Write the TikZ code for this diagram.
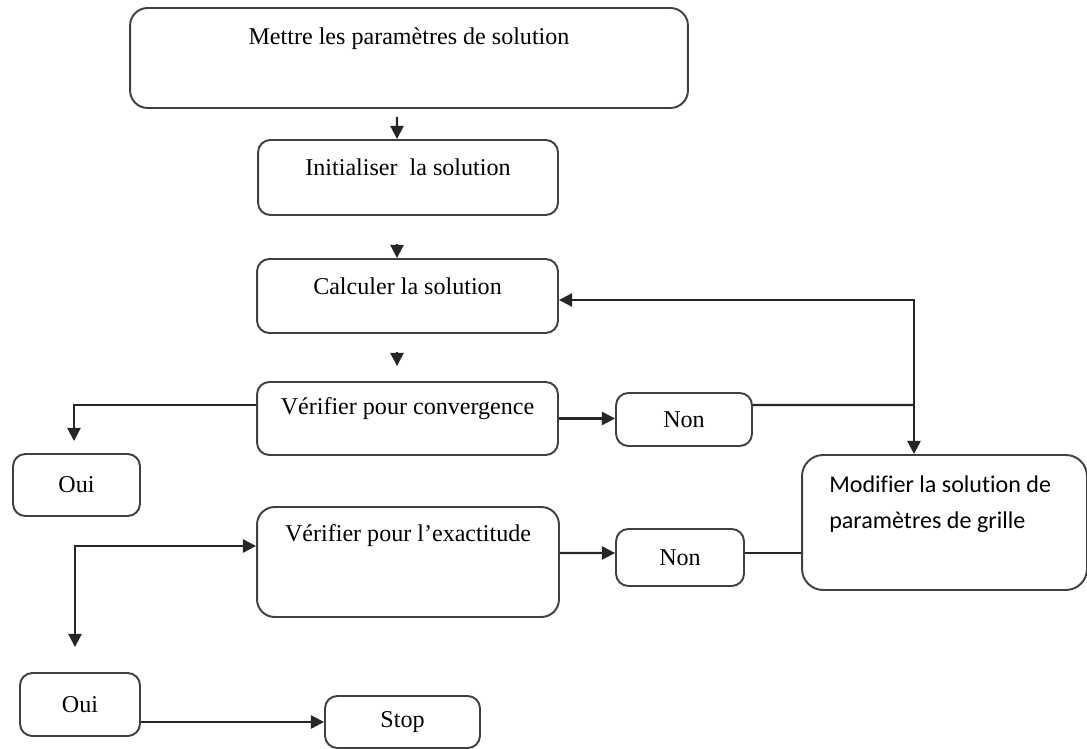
\documentclass[tikz,border=0pt]{standalone}
\usepackage{fontspec}
\setmainfont{Liberation Serif}
\newfontfamily\calibri[Ligatures=NoCommon]{Carlito}
\usetikzlibrary{arrows.meta,positioning}
\tikzset{>={Triangle[length=7.5pt,width=7.5pt]}}
\tikzset{
  box/.style={draw=black!75, line width=1.1pt, rounded corners=7pt, font=\fontsize{13.7}{16}\selectfont},
  toptext/.style 2 args={label={[anchor=center,yshift=#1,font=\fontsize{13.7}{16}\selectfont]north:#2}},
  flow/.style={line width=1.2pt, draw=black!85}
}

\begin{document}
\begin{tikzpicture}[x=0.02cm, y=-0.02cm]
\useasboundingbox (0,0) rectangle (1087,749);
% boxes
\node[box, minimum width=11.16cm, minimum height=2cm, rounded corners=10pt, toptext={-0.64cm}{Mettre les paramètres de solution}] (param) at (409,58) {};
\node[box, minimum width=6cm, minimum height=1.5cm, toptext={-0.56cm}{Initialiser\ \ la solution}] (init) at (408,177.5) {};
\node[box, minimum width=6.02cm, minimum height=1.48cm, toptext={-0.56cm}{Calculer la solution}] (calc) at (407.5,296) {};
\node[box, minimum width=6.02cm, minimum height=1.46cm, toptext={-0.56cm}{Vérifier pour convergence}] (verif1) at (407.5,418.5) {};
\node[box, minimum width=2.72cm, minimum height=1.06cm] (non1) at (684,419.5) {Non};
\node[box, minimum width=2.54cm, minimum height=1.24cm] (oui1) at (76.5,485) {Oui};
\node[box, minimum width=5.7cm, minimum height=2.7cm, rounded corners=12pt,
  label={[anchor=west, align=left, xshift=0.44cm, yshift=-1cm, font=\calibri\fontsize{13.7}{20.5}\selectfont]north west:Modifier la solution de\\paramètres de grille}] (modif) at (944.5,522.5) {};
\node[box, minimum width=6.04cm, minimum height=2.2cm, rounded corners=10pt, toptext={-0.6cm}{Vérifier pour l’exactitude}] (verif2) at (408,562) {};
\node[box, minimum width=2.56cm, minimum height=1.14cm] (non2) at (680,557.5) {Non};
\node[box, minimum width=2.4cm, minimum height=1.26cm] (oui2) at (80,704.5) {Oui};
\node[box, minimum width=3.1cm, minimum height=1.04cm] (stop) at (402.5,722) {Stop};
% connectors
\draw[flow,->] ([xshift=-0.24cm,yshift=-0.16cm]param.south) -- ([xshift=-0.22cm]init.north);
\draw[flow,->] ([xshift=-0.21cm,yshift=0.28cm]calc.north) -- ([xshift=-0.21cm]calc.north);
\draw[flow,->] ([xshift=-0.21cm,yshift=0.58cm]verif1.north) -- ([xshift=-0.21cm,yshift=0.3cm]verif1.north);
\draw[flow,->] (verif1.east) -- (verif1.east -| non1.west);
\coordinate (split) at (914,405);
\draw[flow] ([yshift=0.29cm]non1.east) -- (split);
\draw[flow,->] (split) -- (split |- modif.north);
\draw[flow,->] (split) |- ([yshift=-0.08cm]calc.east);
\draw[flow,->] ([yshift=0.27cm]verif1.west) -| ([xshift=-0.05cm,yshift=0.24cm]oui1.north);
\draw[flow,<->] ([yshift=0.32cm]verif2.west) -| ([xshift=-0.1cm,yshift=0.5cm]oui2.north);
\draw[flow,->] ([yshift=0.18cm]verif2.east) -- ([yshift=0.09cm]non2.west);
\draw[flow] ([yshift=0.09cm]non2.east) -- ([yshift=0.09cm]non2.east -| modif.west);
\draw[flow,->] (oui2.east |- stop.west) -- (stop.west);
\end{tikzpicture}
\end{document}
